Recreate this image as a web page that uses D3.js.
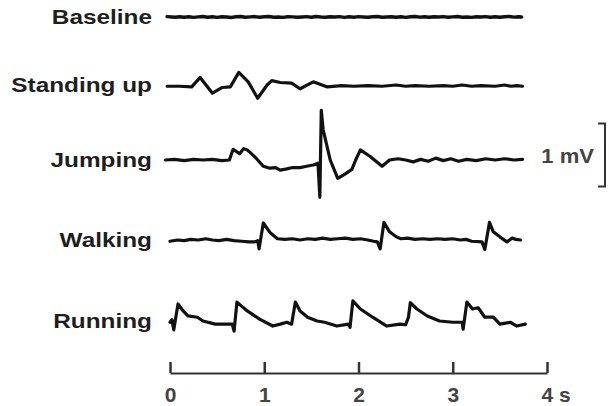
<!DOCTYPE html>
<html>
<head>
<meta charset="utf-8">
<script src="https://cdn.jsdelivr.net/npm/d3@7/dist/d3.min.js"></script>
<style>
  html, body { margin: 0; padding: 0; background: #fff; }
  svg { display: block; }
  text { font-family: "Liberation Sans", Arial, sans-serif; font-weight: bold; }
</style>
</head>
<body>
<svg id="chart" width="609" height="406"></svg>
<script>
// ---------------- DATA ----------------
const rowNames = ["Baseline", "Standing up", "Jumping", "Walking", "Running"];
const timeTicks = [0, 1, 2, 3, 4];
const timeUnit = "s";
const scaleBarValue = 1; // mV
const scaleBarLabel = "1 mV";

// [time (s), voltage (mV)] pairs
const baselineData = [
  [-0.03,0.006],[0.02,0],[0.06,-0.005],[0.1,0.004],[0.15,-0.003],[0.2,0.005],[0.25,-0.006],[0.3,0.002],
  [0.35,0.007],[0.4,-0.004],[0.45,0.003],[0.5,-0.006],[0.55,0.005],[0.6,0],[0.65,-0.007],[0.7,0.004],
  [0.75,0.008],[0.8,-0.003],[0.85,0.002],[0.9,0.006],[0.95,-0.005],[1.0,0.003],[1.05,0.009],[1.1,-0.004],
  [1.15,0],[1.2,-0.006],[1.25,0.005],[1.3,0.002],[1.35,-0.005],[1.4,0.001],[1.45,0.006],[1.5,-0.003],
  [1.55,0.008],[1.6,0],[1.65,-0.005],[1.7,0.004],[1.75,0],[1.8,0.006],[1.85,-0.006],[1.9,0.003],
  [1.95,-0.003],[2.0,0.006],[2.05,0],[2.1,-0.005],[2.15,0.004],[2.2,0.007],[2.25,-0.003],[2.3,0.001],
  [2.35,0.005],[2.4,-0.004],[2.45,0.003],[2.5,-0.006],[2.55,0.004],[2.6,0.008],[2.65,-0.002],[2.7,0.003],
  [2.75,-0.005],[2.8,0.004],[2.85,0],[2.9,0.006],[2.95,-0.004],[3.0,0.002],[3.05,0.007],[3.1,-0.003],
  [3.15,0.001],[3.2,-0.006],[3.25,0.004],[3.3,0],[3.35,0.006],[3.4,-0.004],[3.45,0.003],[3.5,-0.005],
  [3.55,0.005],[3.6,0.008],[3.65,-0.002],[3.7,0.004],[3.73,0.001]
];
const standingData = [
  [-0.03,-0.02],[0.1,-0.02],[0.23,-0.03],[0.32,0.12],[0.45,-0.13],[0.55,-0.04],[0.64,-0.03],
  [0.73,0.2],[0.83,0.05],[0.93,-0.21],[1.03,0],[1.08,0.07],[1.17,0.04],[1.29,0.03],[1.38,-0.06],
  [1.52,0.05],[1.67,-0.03],[1.82,-0.01],[1.95,-0.02],[2.1,-0.01],[2.25,-0.02],[2.4,0],[2.5,-0.02],
  [2.6,-0.01],[2.75,-0.02],[2.9,-0.01],[3.0,-0.02],[3.1,0],[3.2,-0.02],[3.3,-0.01],[3.45,-0.02],
  [3.55,0],[3.62,-0.02],[3.68,-0.01],[3.74,-0.02]
];
const jumpingData = [
  [-0.05,0],[0.05,0.01],[0.15,-0.01],[0.25,0.01],[0.35,0],[0.45,0.01],[0.55,-0.01],[0.63,0],
  [0.67,0.17],[0.71,0.13],[0.74,0.1],[0.78,0.18],[0.82,0.16],[0.9,0.05],[0.99,-0.1],[1.06,-0.13],
  [1.12,-0.12],[1.17,-0.16],[1.24,-0.14],[1.3,-0.12],[1.38,-0.12],[1.45,-0.1],[1.52,-0.08],[1.57,-0.05],
  [1.59,-0.59],[1.605,0.79],[1.625,0.48],[1.7,0],[1.78,-0.29],[1.86,-0.22],[1.93,-0.15],[1.97,0],
  [2.02,0.16],[2.12,0.06],[2.25,-0.1],[2.33,0],[2.42,0.02],[2.5,0],[2.58,-0.03],[2.66,0.01],
  [2.74,-0.02],[2.82,0.03],[2.9,-0.01],[2.98,0.02],[3.06,-0.02],[3.15,0.01],[3.25,-0.01],[3.35,0.02],
  [3.45,0],[3.55,0.02],[3.65,0],[3.74,0.01]
];
const walkingData = [
  [0,-0.02],[0.08,0],[0.15,-0.01],[0.22,0.01],[0.3,0],[0.38,0.02],[0.45,0],[0.52,-0.01],[0.6,0.01],
  [0.68,-0.01],[0.76,-0.02],[0.84,-0.03],[0.9,-0.03],[0.93,-0.01],[0.945,-0.14],[0.99,0.27],
  [1.06,0.12],[1.14,0.02],[1.22,0.01],[1.3,0.02],[1.38,0],[1.46,0.02],[1.54,0.01],[1.62,0.03],
  [1.7,0.01],[1.78,0.02],[1.86,0.03],[1.94,0.01],[2.02,0.02],[2.1,0],[2.16,-0.02],[2.2,-0.03],
  [2.23,-0.14],[2.27,0.28],[2.33,0.13],[2.4,0.05],[2.45,0.02],[2.52,0.03],[2.6,0.01],[2.68,0.02],
  [2.76,0.01],[2.84,0.02],[2.92,0.01],[3.0,0.02],[3.08,0],[3.14,0.01],[3.2,-0.02],[3.31,-0.03],
  [3.34,-0.15],[3.39,0.28],[3.43,0.13],[3.5,0.05],[3.575,-0.03],[3.63,0.03],[3.67,0.01],[3.72,0]
];
const runningData = [
  [0,-0.02],[0.02,0.02],[0.04,-0.14],[0.085,0.27],[0.14,0.16],[0.19,0.08],[0.29,0.06],[0.35,0],
  [0.48,-0.05],[0.58,-0.05],[0.66,-0.05],[0.68,-0.16],[0.71,0.3],[0.82,0.16],[0.95,0.03],[1.09,-0.08],
  [1.17,-0.05],[1.24,-0.02],[1.29,-0.05],[1.33,0.3],[1.38,0.16],[1.46,0.06],[1.56,0],[1.64,-0.02],
  [1.77,-0.08],[1.89,-0.05],[1.91,-0.1],[1.94,0.32],[2.02,0.19],[2.15,0.06],[2.3,-0.08],[2.44,-0.05],
  [2.5,-0.06],[2.53,0.06],[2.55,0.29],[2.62,0.19],[2.73,0.08],[2.86,0],[3.0,-0.02],[3.1,-0.02],
  [3.11,-0.13],[3.15,0.3],[3.21,0.19],[3.27,0.21],[3.34,0.06],[3.43,0.06],[3.5,-0.05],[3.61,-0.02],
  [3.68,-0.08],[3.77,-0.05]
];
const traces = [baselineData, standingData, jumpingData, walkingData, runningData];

// ---------------- LAYOUT ----------------
const svg = d3.select("#chart");
const x = d3.scaleLinear().domain([0, 4]).range([170, 547]);
const mv = d3.scaleLinear().domain([-1, 1]).range([63, -63]); // mV -> px offset
const row = d3.scaleOrdinal().domain(rowNames).range([17, 85, 160, 240, 321]);

const line = d3.line().x(d => x(d[0])).y(d => mv(d[1]));

const rows = svg.selectAll("g.row")
  .data(rowNames.map((n, i) => ({ name: n, data: traces[i] })))
  .enter().append("g")
  .attr("class", "row")
  .attr("transform", d => `translate(0,${row(d.name)})`);

rows.append("path")
  .attr("d", d => line(d.data))
  .attr("fill", "none")
  .attr("stroke", "#111")
  .attr("stroke-width", (d, i) => i === 0 ? 3.5 : 3.2)
  .attr("stroke-linejoin", "round")
  .attr("stroke-linecap", "round");

rows.append("text")
  .attr("transform", "translate(152,7) scale(1.16,1)")
  .attr("text-anchor", "end")
  .attr("font-size", 21)
  .attr("fill", "#1e1e1e")
  .text(d => d.name);

// Scale bar (1 mV), centred near the Jumping row
const barX = 605, barCy = row("Jumping") - 5;
const half = (mv(0) - mv(scaleBarValue)) / 2;
svg.append("path")
  .attr("d", `M${barX - 7},${barCy - half}H${barX}V${barCy + half}H${barX - 7}`)
  .attr("fill", "none")
  .attr("stroke", "#333")
  .attr("stroke-width", 2);
svg.append("text")
  .attr("transform", `translate(594,${barCy + 8}) scale(1.05,1)`)
  .attr("text-anchor", "end")
  .attr("font-size", 21)
  .attr("fill", "#444")
  .text(scaleBarLabel);

// Time axis
const axis = d3.axisBottom(x)
  .tickValues(timeTicks)
  .tickSizeInner(-11)
  .tickSizeOuter(0)
  .tickPadding(14)
  .tickFormat(d => d === timeTicks[timeTicks.length - 1] ? `${d} ${timeUnit}` : `${d}`);

const gAxis = svg.append("g")
  .attr("transform", "translate(0,373)")
  .call(axis);
gAxis.select(".domain").attr("stroke", "#333").attr("stroke-width", 2);
gAxis.selectAll(".tick line").attr("stroke", "#333").attr("stroke-width", 2.5);
gAxis.selectAll(".tick text")
  .attr("font-size", 21)
  .attr("font-family", "'Liberation Sans', Arial, sans-serif")
  .attr("font-weight", "bold")
  .attr("fill", "#444");
gAxis.selectAll(".tick text")
  .filter(d => d === timeTicks[timeTicks.length - 1])
  .attr("text-anchor", "start")
  .attr("x", -6);
</script>
</body>
</html>
